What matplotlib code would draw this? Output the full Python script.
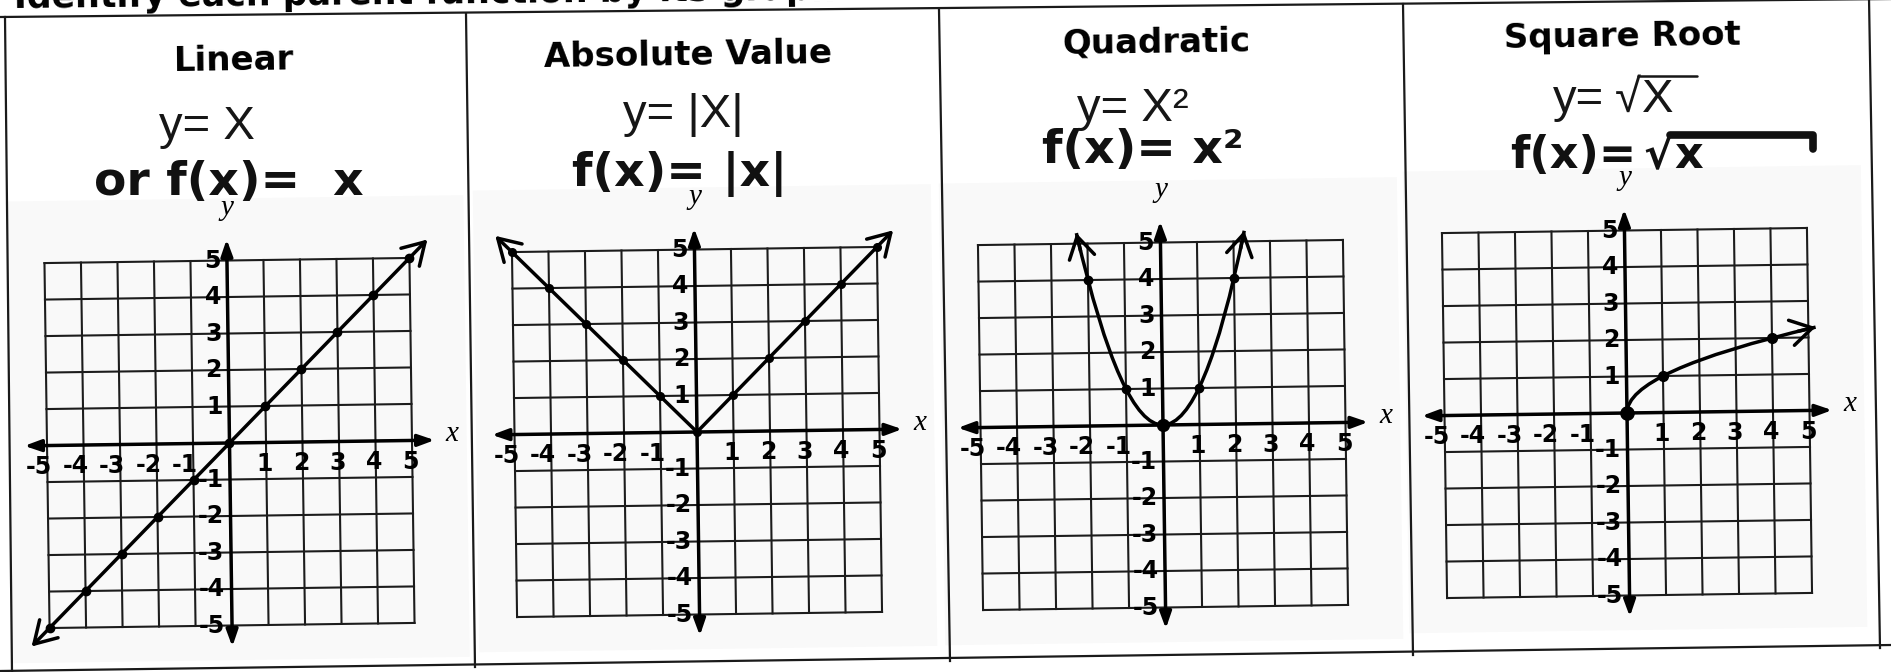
import matplotlib
matplotlib.use("Agg")
import matplotlib.pyplot as plt
import numpy as np
from matplotlib.patches import FancyArrowPatch, Rectangle, PathPatch
from matplotlib.path import Path
from matplotlib.lines import Line2D
from matplotlib.transforms import Affine2D
from matplotlib.textpath import TextPath
from matplotlib.font_manager import FontProperties

W, H = 1891, 672
DPI = 100
TILT = 0.8        # the scanned sheet sits a little crooked
UNIT = 36.5       # pixels per grid square

titles = ["Linear", "Absolute Value", "Quadratic", "Square Root"]
ticks = [-5, -4, -3, -2, -1, 1, 2, 3, 4, 5]

# plotted points on each graph
lin_x = [-5, -4, -3, -2, -1, 0, 1, 2, 3, 4, 5]
lin_y = [-5, -4, -3, -2, -1, 0, 1, 2, 3, 4, 5]
abs_x = [-5, -4, -3, -2, -1, 0, 1, 2, 3, 4, 5]
abs_y = [5, 4, 3, 2, 1, 0, 1, 2, 3, 4, 5]
quad_x = [-2, -1, 0, 1, 2]
quad_y = [4, 1, 0, 1, 4]
sqrt_x = [0, 1, 4]
sqrt_y = [0, 1, 2]

# where the drawn curves stop (arrow tips)
lin_ends = [(-5.5, -5.5), (5.5, 5.5)]
abs_ends = [(-5.45, 5.45), (5.45, 5.45)]
quad_ends = [(-2.3, 5.29), (2.3, 5.29)]
sqrt_end = (5.2, 2.28)

# layout, in pixels from the top-left corner
origins = [(229.5, 443), (697, 432), (1163, 425), (1627, 413)]
title_pos = [(234, 71), (688, 67), (1156, 53), (1622, 48)]

fig = plt.figure(figsize=(W / DPI, H / DPI), dpi=DPI)
fig.patch.set_facecolor("white")


def fx(px):
    return px / W


def fy(py):
    return 1 - py / H


# heading of the worksheet, mostly cut off by the top edge
fig.text(fx(14), fy(8), "Identify each parent function by its graph",
         fontsize=25, fontweight="bold", family="DejaVu Sans",
         ha="left", va="baseline", rotation=0.6)

# table rules
rules = [((0, 17), (1891, -1)), ((0, 671), (1891, 645)),
         ((5, 17), (12, 672)), ((466, 14), (475, 667)),
         ((939, 10), (950, 661)), ((1403, 4), (1413, 655)),
         ((1869, -2), (1880, 648))]
for (x0, y0), (x1, y1) in rules:
    fig.add_artist(Line2D([fx(x0), fx(x1)], [fy(y0), fy(y1)],
                          transform=fig.transFigure, color="#1a1a1a", lw=1.6))

for t, (x, y) in zip(titles, title_pos):
    fig.text(fx(x), fy(y), t, fontsize=24.5, fontweight="bold",
             family="DejaVu Sans", ha="center", va="baseline", rotation=TILT)

# handwritten equations
thin = dict(family="Liberation Sans", fontsize=34, color="#161616")
thick = dict(family="DejaVu Sans", fontsize=34, fontweight="bold", color="#111111")
eqs = [("y= X", 207, 139, thin), ("or f(x)=  x", 229, 195, thick),
       ("y= |X|", 683, 127, thin), ("f(x)= |x|", 680, 186, thick),
       ("y= X²", 1133, 121, thin), ("f(x)= x²", 1143, 163, thick)]
for s, x, y, props in eqs:
    fig.text(fx(x), fy(y), s, ha="center", va="baseline", **props)


def ink(s, props):
    fp = FontProperties(family=props["family"],
                        weight=props.get("fontweight", "normal"))
    return TextPath((0, 0), s, size=props["fontsize"] * DPI / 72, prop=fp).get_extents()


def radical(x_left, base, prefix, radicand, props, bar_end, bar_lw, hook):
    e1 = ink(prefix, props)
    fig.text(fx(x_left), fy(base), prefix, ha="left", va="baseline", **props)
    e2 = ink("√", props)
    xs = x_left + e1.x1 + 14 - e2.x0
    fig.text(fx(xs), fy(base), "√", ha="left", va="baseline", **props)
    e3 = ink(radicand, props)
    xr = xs + e2.x1 + 2 - e3.x0
    fig.text(fx(xr), fy(base), radicand, ha="left", va="baseline", **props)
    top = base - e2.y1 + bar_lw * DPI / 72 / 2
    bx = [xs + e2.x1 - 3, bar_end, bar_end]
    by = [top, top, top + hook]
    fig.add_artist(Line2D([fx(v) for v in bx], [fy(v) for v in by],
                          transform=fig.transFigure, color=props["color"],
                          lw=bar_lw, solid_capstyle="round", solid_joinstyle="round"))


radical(1553, 112, "y=", "X", thin, 1697, 1.8, 0)
radical(1510, 168, "f(x)=", "x", dict(thick, fontsize=32), 1813, 5.5, 14)


def arrow(ax, tr, a, b, style):
    ax.add_patch(FancyArrowPatch(a, b, arrowstyle=style, mutation_scale=22,
                                 lw=2.5, color="black", transform=tr,
                                 shrinkA=0, shrinkB=0, clip_on=False,
                                 capstyle="round", joinstyle="round", zorder=4))


def tip(ax, tr, ctrl, end):
    d = np.subtract(end, ctrl)
    d = d / np.hypot(*d)
    arrow(ax, tr, tuple(np.subtract(end, 0.5 * d)), end,
          "->,head_length=0.7,head_width=0.42")


def panel(i):
    ox, oy = origins[i]
    half = 7
    ax = fig.add_axes([fx(ox - half * UNIT), (H - oy - half * UNIT) / H,
                       2 * half * UNIT / W, 2 * half * UNIT / H])
    ax.set_axis_off()
    tr = Affine2D().rotate_deg(TILT) + ax.transData

    ax.add_patch(Rectangle((-6.05, -5.95), 12.55, 12.65, facecolor="#f9f9f9",
                           edgecolor="none", transform=tr, zorder=0, clip_on=False))
    for v in range(-5, 6):
        ax.plot([v, v], [-5, 5], color="#1c1c1c", lw=1.5, transform=tr, clip_on=False, zorder=1)
        ax.plot([-5, 5], [v, v], color="#1c1c1c", lw=1.5, transform=tr, clip_on=False, zorder=1)

    axis_style = "<|-|>,head_length=0.45,head_width=0.16"
    arrow(ax, tr, (-5.62, 0), (5.62, 0), axis_style)
    arrow(ax, tr, (0, -5.58), (0, 5.58), axis_style)

    ax.text(6.1, 0.15, "x", transform=tr, family="Liberation Serif", style="italic",
            fontsize=21, ha="center", va="center", zorder=6)
    ax.text(0.02, 6.45, "y", transform=tr, family="Liberation Serif", style="italic",
            fontsize=21, ha="center", va="center", zorder=6)

    for t in ticks:
        ax.text(t - (0.22 if t < 0 else 0.05), -0.58, str(t), transform=tr,
                family="DejaVu Sans", fontsize=17, fontweight="bold",
                ha="center", va="center", zorder=6)
        ax.text(-0.18, t, str(t), transform=tr, family="DejaVu Sans", fontsize=17,
                fontweight="bold", ha="right", va="center", zorder=6)

    ax.set_xlim(-half, half)
    ax.set_ylim(-half, half)
    return ax, tr


# Linear
ax, tr = panel(0)
arrow(ax, tr, lin_ends[0], lin_ends[1], "<->,head_length=0.7,head_width=0.42")
ax.plot(lin_x, lin_y, "o", color="black", ms=6, transform=tr, clip_on=False, zorder=5)

# Absolute value
ax, tr = panel(1)
arrow(ax, tr, (0, 0), abs_ends[0], "->,head_length=0.7,head_width=0.42")
arrow(ax, tr, (0, 0), abs_ends[1], "->,head_length=0.7,head_width=0.42")
ax.plot(abs_x, abs_y, "o", color="black", ms=5.5, transform=tr, clip_on=False, zorder=5)

# Quadratic: a quadratic Bezier between two points of y = x^2 is the parabola itself
ax, tr = panel(2)
(xa, ya), (xb, yb) = quad_ends
ctrl = ((xa + xb) / 2, xa * xb)
ax.add_patch(PathPatch(Path([quad_ends[0], ctrl, quad_ends[1]],
                            [Path.MOVETO, Path.CURVE3, Path.CURVE3]),
                       facecolor="none", edgecolor="black", lw=2.5,
                       transform=tr, clip_on=False, zorder=4))
tip(ax, tr, ctrl, quad_ends[0])
tip(ax, tr, ctrl, quad_ends[1])
ax.plot(quad_x, quad_y, "o", color="black", ms=6, transform=tr, clip_on=False, zorder=5)
ax.plot([0], [0], "o", color="black", ms=8.5, transform=tr, clip_on=False, zorder=5)

# Square root: x = y^2 on its side, again exact as a quadratic Bezier
ax, tr = panel(3)
ctrl = (0, sqrt_end[1] / 2)
ax.add_patch(PathPatch(Path([(0, 0), ctrl, sqrt_end],
                            [Path.MOVETO, Path.CURVE3, Path.CURVE3]),
                       facecolor="none", edgecolor="black", lw=2.5,
                       transform=tr, clip_on=False, zorder=4))
tip(ax, tr, ctrl, sqrt_end)
ax.plot(sqrt_x, sqrt_y, "o", color="black", ms=7, transform=tr, clip_on=False, zorder=5)
ax.plot([0], [0], "o", color="black", ms=9.5, transform=tr, clip_on=False, zorder=5)

fig.savefig("out.png", dpi=DPI, facecolor="white")
